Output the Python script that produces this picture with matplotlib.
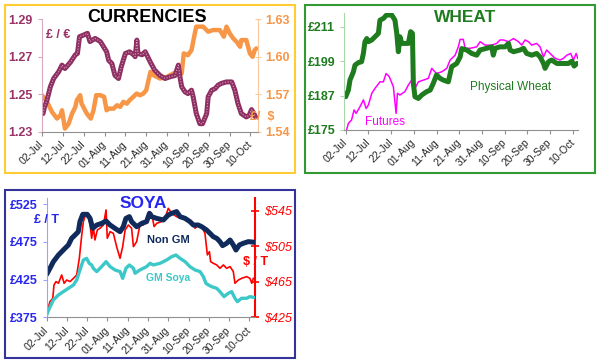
import matplotlib
matplotlib.use("Agg")
import matplotlib.pyplot as plt
from matplotlib.patches import Rectangle

plt.rcParams['font.family'] = ['Liberation Sans', 'DejaVu Sans']

# ---------------- data (x = days since 02-Jul) ----------------
xtick_days = [0, 10, 20, 30, 40, 50, 60, 70, 80, 90, 100]
xtick_labels = ['02-Jul', '12-Jul', '22-Jul', '01-Aug', '11-Aug', '21-Aug',
                '31-Aug', '10-Sep', '20-Sep', '30-Sep', '10-Oct']

# Currencies
gbp_eur_days = [0.5, 1.2, 2.4, 4, 5.6, 8, 9.6, 11, 13.6, 16, 17, 18, 20, 21.8, 23, 25.5,
                28, 29.5, 31, 32, 33.5, 35, 36.7, 38, 40, 42, 44, 44.7, 45.5, 46, 48,
                49.5, 52, 54, 56.6, 59, 61.4, 63.8, 65.4, 66.2, 67, 68.6, 70, 71.7, 72.5,
                74, 75.7, 77, 79, 79.7, 81.4, 83, 84.5, 86, 88.5, 91, 92.5, 94, 95.6, 98,
                99.4, 100.5, 101.6, 102.4]
gbp_eur = [1.2398, 1.2433, 1.2469, 1.254, 1.2584, 1.262, 1.2655, 1.2637, 1.267, 1.271,
           1.2717, 1.2806, 1.2815, 1.2824, 1.278, 1.2797, 1.278, 1.2753, 1.2726, 1.268,
           1.2664, 1.260, 1.2584, 1.2646, 1.2717, 1.2726, 1.271, 1.270, 1.2788, 1.2717,
           1.271, 1.2726, 1.267, 1.2629, 1.260, 1.2584, 1.2593, 1.260, 1.2655, 1.259,
           1.254, 1.2513, 1.2504, 1.2522, 1.2487, 1.2398, 1.2344, 1.2344, 1.2398, 1.2487,
           1.2522, 1.253, 1.2549, 1.2558, 1.2566, 1.2566, 1.2522, 1.2451, 1.2398, 1.238,
           1.2389, 1.2419, 1.2398, 1.238]

gbp_usd_days = [0, 2.4, 4.8, 7.2, 8.8, 9.6, 11, 12.8, 14.4, 16, 16.7, 18.3, 19, 21.5,
                23.4, 24.7, 26, 28, 29.8, 31, 32, 34.3, 36, 37.5, 39, 40.7, 42, 43.8,
                45.4, 47, 48.6, 50, 52, 53.4, 56.6, 60, 63, 66.2, 67, 68, 70, 71.7, 73.3,
                74, 77.3, 79.7, 82, 85.3, 87.2, 88.5, 90, 91.7, 93.3, 95, 95.6, 98, 99.7,
                101, 102, 102.8]
gbp_usd = [1.5693, 1.564, 1.556, 1.5507, 1.5533, 1.5573, 1.5427, 1.5467, 1.5546, 1.560,
           1.5653, 1.5693, 1.5626, 1.5546, 1.5507, 1.5573, 1.5693, 1.5693, 1.568, 1.5573,
           1.5586, 1.5586, 1.5613, 1.560, 1.564, 1.5626, 1.5653, 1.568, 1.5706, 1.5693,
           1.5706, 1.5733, 1.5879, 1.5853, 1.5826, 1.584, 1.5866, 1.5893, 1.5866, 1.6026,
           1.6012, 1.6052, 1.6186, 1.6239, 1.6239, 1.6199, 1.6212, 1.6212, 1.6159, 1.6239,
           1.6186, 1.6146, 1.6119, 1.6079, 1.6132, 1.6132, 1.6026, 1.5999, 1.6052, 1.6066]

# Wheat
phys_days = [0, 1.2, 1.9, 3.4, 4.1, 5.6, 7, 7.8, 8.5, 9.3, 10, 11.5, 12.9, 14.4, 15.1,
             16.6, 18, 20.3, 21.7, 22.5, 23.2, 23.9, 24.7, 26.1, 27.6, 28.6, 29.4, 29.8,
             30.5, 32, 33.5, 35.7, 37.2, 38.6, 40, 41.6, 43, 45.2, 46.7, 48.9, 50.4, 51.1,
             53.3, 55.5, 57.7, 59.2, 62.1, 64.3, 65, 65.8, 68, 70.2, 71.7, 72.4, 73.9,
             76.8, 78.3, 79.7, 81.9, 84.1, 85.6, 87.1, 87.8, 89.3, 90.7, 93, 95.2, 98.1,
             99.6, 100.6, 101.8]
phys_wheat = [186.6, 188.9, 192.4, 195.3, 197.6, 198.5, 198.8, 201.7, 205.8, 206.9, 205.8,
              206.4, 207.5, 208.7, 213.3, 213.9, 215.1, 215.1, 213.3, 208.7, 202.3, 207.5,
              205.2, 205.2, 205.2, 209.3, 208.7, 191.3, 186.6, 186.0, 187.2, 188.4, 188.9,
              191.3, 194.2, 193.0, 192.4, 191.8, 197.1, 198.2, 200.5, 203.4, 202.9, 201.7,
              201.1, 202.9, 203.5, 204.0, 201.1, 203.5, 204.0, 204.0, 205.2, 202.9, 202.3,
              202.9, 203.5, 201.7, 201.1, 201.7, 200.5, 198.2, 196.5, 198.8, 199.4, 198.2,
              198.2, 198.2, 199.0, 197.3, 198.2]

fut_days = [0.4, 1.2, 2.6, 3.7, 4.6, 6.3, 7.8, 9, 10, 11.5, 12.9, 15.1, 16.6, 17.8, 19.2,
            21, 22.2, 22.8, 23.9, 26.1, 27.6, 29.1, 30.5, 32, 34.2, 36.4, 37.9, 40, 42.3,
            44.5, 46, 48.2, 49.6, 50.4, 51.8, 52.6, 54.8, 57.7, 59.2, 61.4, 64.3, 66.5,
            68, 69.5, 71.7, 73.9, 76.1, 77.5, 79, 80.5, 81.9, 84.1, 85.6, 87.1, 88.5, 90,
            92.2, 94.4, 95.9, 97.4, 99.1, 100.3, 101.5, 102.2]
futures = [175.0, 177.3, 178.5, 182.0, 180.8, 183.1, 185.5, 182.5, 183.7, 187.8, 189.5,
           191.8, 191.8, 194.7, 193.6, 190.1, 180.8, 187.8, 187.2, 188.4, 190.7, 192.4,
           189.5, 191.8, 192.4, 193.0, 196.5, 194.7, 195.3, 196.5, 199.4, 201.1, 204.0,
           206.6, 206.6, 203.5, 203.5, 204.0, 205.8, 204.6, 204.6, 205.2, 206.4, 206.4,
           205.8, 206.9, 205.8, 204.6, 206.4, 205.8, 204.6, 205.2, 204.0, 200.5, 202.9,
           201.7, 200.0, 199.4, 200.0, 201.1, 201.7, 199.4, 201.7, 200.0]

# Soya
nongm_days = [0, 1.6, 3.3, 5.8, 8.2, 10.7, 12.3, 14, 15.6, 16.4, 17.8, 20, 21.4, 22.7,
              24.7, 27.1, 29.3, 31.3, 33.7, 36.2, 37.8, 39.1, 40.8, 41.9, 44.4, 46.9, 49.3,
              50.7, 51.8, 54.3, 57.6, 60, 61.7, 64.1, 65.8, 68.3, 70.7, 72.4, 74.8, 76.5,
              78.9, 80.6, 82.2, 83.9, 85.5, 86.8, 88.8, 90.5, 92.1, 93.4, 95.1, 97, 99.5,
              102.8]
non_gm = [431.9, 439.9, 448.7, 457.5, 464.1, 470.8, 479.6, 484.0, 488.4, 501.7, 511.4,
          511.4, 506.0, 492.8, 497.2, 499.4, 502.5, 497.2, 492.8, 488.4, 495.0, 506.0,
          508.3, 501.7, 495.0, 499.4, 501.7, 512.7, 508.3, 506.0, 503.9, 510.5, 512.7,
          515.0, 508.3, 506.0, 501.7, 497.2, 497.2, 495.0, 490.6, 486.2, 481.8, 479.6,
          475.2, 469.9, 473.0, 477.4, 470.8, 464.1, 470.8, 473.0, 475.2, 474.3]

gm_days = [0, 1.3, 3.3, 5.8, 8.2, 10.7, 13.2, 14.8, 16.4, 18.1, 19.7, 21, 22.2, 23, 24.7,
           27.1, 29.3, 31.3, 33.7, 36.2, 37.5, 39.1, 40.8, 42.8, 43.6, 46, 49.3, 51, 52.6,
           55.9, 59.2, 61.7, 63.8, 65.8, 68.3, 70.7, 73.2, 75.7, 77.3, 78.6, 79.8, 81.4,
           83.9, 85.5, 87.5, 89.6, 91.3, 92.9, 94.1, 96.2, 98.7, 100.3, 102.8]
gm_soya = [378.1, 386.9, 398.0, 404.6, 409.0, 413.4, 417.8, 424.4, 437.7, 450.9, 453.1,
           446.5, 444.3, 439.9, 435.5, 442.1, 448.7, 442.1, 437.7, 435.5, 426.6, 439.9,
           444.3, 439.9, 433.3, 437.7, 442.1, 446.5, 444.3, 446.5, 450.9, 455.3, 457.5,
           453.1, 448.7, 442.1, 437.7, 435.5, 428.8, 420.0, 417.8, 415.6, 413.4, 409.0,
           402.4, 406.8, 409.0, 400.2, 395.7, 400.2, 400.2, 402.4, 401.0]

usd_days = [0, 1.6, 3, 3.6, 4.6, 5.8, 7.4, 8.6, 9.9, 11.5, 13.2, 14.8, 16.1, 17.3, 18.1,
            19.4, 20.6, 21.4, 22.2, 23, 23.8, 25, 26.3, 28, 29.3, 29.9, 31.3, 32.9, 34.5,
            36.2, 37.5, 38.7, 40.3, 41.9, 42.8, 44.4, 46, 47.7, 49.3, 50.7, 51.8, 53,
            54.3, 56.7, 58.4, 60, 61.7, 64.1, 66.6, 69.1, 71.5, 73.2, 74.8, 76.5, 78.1,
            79.3, 80.3, 80.9, 82.2, 83.9, 85.5, 87.2, 88.8, 90.5, 92.1, 92.9, 94.6, 96.2,
            98.7, 100.3, 101.2, 102]
soya_usd = [429.5, 442.7, 446.4, 461.5, 465.3, 463.4, 472.8, 463.4, 467.1, 465.3, 469.0,
            472.8, 491.6, 517.9, 533.0, 542.4, 540.5, 529.2, 514.2, 527.4, 512.3, 523.6,
            525.5, 529.2, 546.2, 514.2, 521.7, 519.8, 504.8, 491.6, 504.8, 523.6, 529.2,
            525.5, 504.8, 510.4, 529.2, 529.2, 536.8, 544.3, 542.4, 527.4, 531.1, 533.0,
            536.8, 548.0, 542.4, 538.6, 536.8, 534.9, 533.0, 525.5, 529.2, 527.4, 519.8,
            495.4, 499.1, 487.8, 486.0, 484.1, 480.3, 484.1, 480.3, 482.2, 476.6, 463.4,
            467.1, 469.0, 470.9, 469.0, 463.4, 469.0]

# ---------------- figure ----------------
W, H = 600, 363
fig = plt.figure(figsize=(6, 3.63), dpi=100)
fig.patch.set_facecolor('white')


def fbox(x0, y0, x1, y1):
    """pixel box (top-left origin) -> figure fraction rect"""
    return [x0 / W, 1 - y1 / H, (x1 - x0) / W, (y1 - y0) / H]


def border(x0, y0, x1, y1, color):
    r = Rectangle((x0 / W, 1 - y1 / H), (x1 - x0) / W, (y1 - y0) / H,
                  transform=fig.transFigure, fill=False, edgecolor=color, lw=1.5)
    fig.patches.append(r)


def style_xaxis(ax):
    ax.set_xticks(xtick_days)
    ax.set_xticklabels(xtick_labels, rotation=45, ha='right', va='center',
                       rotation_mode='anchor', fontsize=7.5, color='#262626')
    ax.tick_params(axis='x', direction='out', length=3, color='#909090', pad=5)
    ax.spines['bottom'].set_color('#909090')
    ax.spines['top'].set_visible(False)


TXT = dict(fontweight='bold', fontsize=9)

# ---- Panel 1: currencies ----
border(5, 5, 295, 173, '#FFCC33')
ax1 = fig.add_axes(fbox(42, 19, 258, 132))
ax1.set_xlim(0, 103.6)
ax1.set_ylim(1.23, 1.29)
ax1.set_yticks([1.23, 1.25, 1.27, 1.29])
ax1.set_yticklabels(['1.23', '1.25', '1.27', '1.29'], color='#993366', **TXT)
ax1.tick_params(axis='y', length=3, color='#D8A8C0')
ax1.spines['left'].set_color('#D8A8C0')
ax1.spines['right'].set_visible(False)
style_xaxis(ax1)
ax1b = ax1.twinx()
ax1b.set_ylim(1.54, 1.63)
ax1b.set_yticks([1.54, 1.57, 1.60, 1.63])
ax1b.set_yticklabels(['1.54', '1.57', '1.60', '1.63'], color='#F79646', **TXT)
ax1b.tick_params(axis='y', length=4, direction='inout', color='#F9C9A0')
ax1b.spines['right'].set_color('#F9C9A0')
for s in ['left', 'top', 'bottom']:
    ax1b.spines[s].set_visible(False)
ax1b.plot(gbp_usd_days, gbp_usd, color='#F79646', lw=3.2, solid_capstyle='round', zorder=2)
ax1.set_zorder(ax1b.get_zorder() + 1)
ax1.patch.set_visible(False)
ax1.plot(gbp_eur_days, gbp_eur, color='#8E2F62', lw=3.6, solid_capstyle='round')
ax1.plot(gbp_eur_days, gbp_eur, color='#D8A0C0', lw=0.8, ls=(0, (1, 1.5)))
fig.text(147 / W, 1 - 17 / H, 'CURRENCIES', ha='center', va='center',
         fontsize=13, fontweight='bold', color='black')
fig.text(58 / W, 1 - 35 / H, '£ / €', ha='center', va='center', color='#993366', **TXT)
fig.text(262 / W, 1 - 117 / H, '£/  $', ha='center', va='center', color='#F79646', **TXT)

# ---- Panel 2: wheat ----
GREEN = '#1E7B1E'
border(305, 5, 595, 173, '#339933')
ax2 = fig.add_axes(fbox(344.3, 13.3, 578, 130))
ax2.set_xlim(-0.6, 102.3)
ax2.set_ylim(175, 215.7)
ax2.set_yticks([175, 187, 199, 211])
ax2.set_yticklabels(['£175', '£187', '£199', '£211'], color=GREEN, **TXT)
ax2.tick_params(axis='y', length=3, color='#A8D8A8')
ax2.spines['left'].set_color('#A8D8A8')
ax2.spines['right'].set_visible(False)
style_xaxis(ax2)
ax2.plot(fut_days, futures, color='#FF00FF', lw=1.1)
ax2.plot(phys_days, phys_wheat, color=GREEN, lw=3.6, solid_capstyle='round')
fig.text(465 / W, 1 - 18 / H, 'WHEAT', ha='center', va='center',
         fontsize=12.5, fontweight='bold', color=GREEN)
fig.text(511 / W, 1 - 87 / H, 'Physical Wheat', ha='center', va='center',
         fontsize=8.5, color=GREEN)
fig.text(385 / W, 1 - 122 / H, 'Futures', ha='center', va='center',
         fontsize=8.5, color='#FF00FF')

# ---- Panel 3: soya ----
BLUE = '#2626F0'
RED = '#FF0000'
border(5, 190, 295, 358, '#333399')
ax3 = fig.add_axes(fbox(46.7, 197.7, 255, 317.3))
ax3.set_xlim(0, 102.8)
ax3.set_ylim(375, 533.4)
ax3.set_yticks([375, 425, 475, 525])
ax3.set_yticklabels(['£375', '£425', '£475', '£525'], color=BLUE, **TXT)
ax3.tick_params(axis='y', length=3, color='#A0A0FF')
ax3.spines['left'].set_color('#A0A0FF')
ax3.spines['right'].set_visible(False)
style_xaxis(ax3)
ax3b = ax3.twinx()
ax3b.set_ylim(425, 560)
ax3b.set_yticks([425, 465, 505, 545])
ax3b.set_yticklabels(['$425', '$465', '$505', '$545'], color=RED,
                     fontsize=9, fontstyle='italic')
ax3b.tick_params(axis='y', length=6, direction='inout', color=RED, width=1.2)
ax3b.spines['right'].set_color(RED)
ax3b.spines['right'].set_linewidth(1.5)
for s in ['left', 'top', 'bottom']:
    ax3b.spines[s].set_visible(False)
ax3b.plot(usd_days, soya_usd, color=RED, lw=1.2, zorder=3)
ax3.set_zorder(ax3b.get_zorder() + 1)
ax3.patch.set_visible(False)
ax3.plot(gm_days, gm_soya, color='#3CC8C8', lw=2.4, solid_capstyle='round')
ax3.plot(nongm_days, non_gm, color='#102A5C', lw=3.6, solid_capstyle='round')
fig.text(143 / W, 1 - 203 / H, 'SOYA', ha='center', va='center',
         fontsize=12.5, fontweight='bold', color=BLUE)
fig.text(46 / W, 1 - 220 / H, '£ / T', ha='center', va='center', color=BLUE, **TXT)
fig.text(256 / W, 1 - 262 / H, '$ / T', ha='center', va='center', color=RED, **TXT)
fig.text(168 / W, 1 - 240 / H, 'Non GM', ha='center', va='center',
         fontsize=8, fontweight='bold', color='#102A5C')
fig.text(168 / W, 1 - 278 / H, 'GM Soya', ha='center', va='center',
         fontsize=7.5, fontweight='bold', color='#3CC8C8')

fig.savefig('out.png', dpi=100, facecolor='white')
